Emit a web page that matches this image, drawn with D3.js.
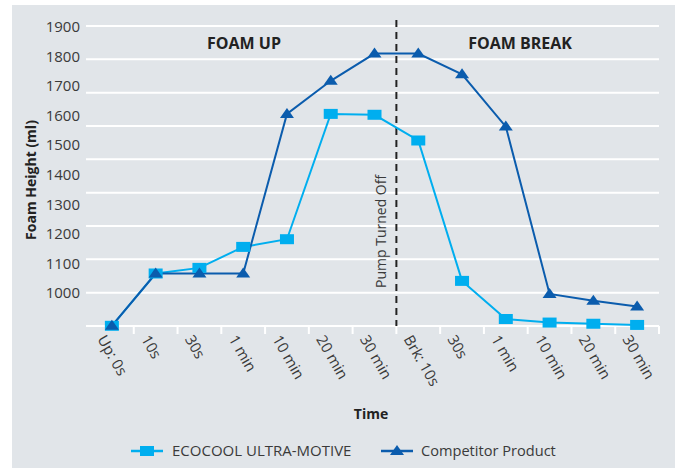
<!DOCTYPE html>
<html><head><meta charset="utf-8">
<script src="https://cdn.jsdelivr.net/npm/d3@7"></script>
<style>
html,body{margin:0;padding:0;background:#fff;}
svg text{font-family:"Open Sans","Noto Sans",sans-serif;}
</style></head>
<body><svg id="c" width="677" height="468"></svg>
<script>
const categories = ["Up: 0s","10s","30s","1 min","10 min","20 min","30 min","Brk: 10s","30s","1 min","10 min","20 min","30 min"];
const ecocool = [889,1066,1085,1156,1182,1606,1603,1516,1041,912,900,896,892];
const competitor = [889,1066,1066,1066,1606,1718,1810,1810,1740,1563,997,974,954];
const yTickLabels = [1900,1800,1700,1600,1500,1400,1300,1200,1100,1000];
const gridCount = 10;
const seriesNames = ["ECOCOOL ULTRA-MOTIVE","Competitor Product"];
const phaseLabels = ["FOAM UP","FOAM BREAK"];

const svg = d3.select("#c");
const C1 = "#00aeef", C2 = "#0b5cad";
svg.append("rect").attr("x",12).attr("y",5).attr("width",663).attr("height",463).attr("fill","#e1e5e9");

const x = d3.scaleBand().domain(d3.range(categories.length)).range([90,659]).padding(0);
const y = d3.scaleLinear().domain([1000,1900]).range([293,27]);
const yGrid = d3.scaleLinear().domain([0,gridCount-1]).range([326,26]);

// gridlines
svg.append("g").selectAll("line").data(d3.range(gridCount)).join("line")
  .attr("x1",86).attr("x2",659).attr("y1",d=>yGrid(d)).attr("y2",d=>yGrid(d))
  .attr("stroke","#fff").attr("stroke-width",2);

// y tick labels
svg.append("g").selectAll("text").data(yTickLabels).join("text")
  .attr("x",80).attr("y",d=>y(d)).attr("dy","0.35em").attr("text-anchor","end")
  .attr("font-size",15).attr("fill","#3a3a3a").text(d=>d);

// x ticks at band right edges
svg.append("g").selectAll("line").data(d3.range(categories.length)).join("line")
  .attr("x1",d=>x(d)+x.bandwidth()).attr("x2",d=>x(d)+x.bandwidth())
  .attr("y1",326).attr("y2",334).attr("stroke","#fff").attr("stroke-width",2);

// x labels
svg.append("g").selectAll("text").data(categories).join("text")
  .attr("transform",(d,i)=>`translate(${x(i)+x.bandwidth()/2-15},339) rotate(60)`)
  .attr("font-size",15).attr("fill","#3a3a3a").text(d=>d);

// axis titles
svg.append("text").attr("transform","translate(36,180) rotate(-90)").attr("text-anchor","middle")
  .attr("font-size",14).attr("font-weight","bold").attr("fill","#222").text("Foam Height (ml)");
svg.append("text").attr("x",371).attr("y",419).attr("text-anchor","middle")
  .attr("font-size",14).attr("font-weight","bold").attr("fill","#222").text("Time");

// phase labels
svg.append("text").attr("x",244).attr("y",49).attr("text-anchor","middle")
  .attr("font-size",16).attr("font-weight","bold").attr("fill","#222").text(phaseLabels[0]);
svg.append("text").attr("x",520).attr("y",49).attr("text-anchor","middle")
  .attr("font-size",16).attr("font-weight","bold").attr("fill","#222").text(phaseLabels[1]);

// pump line
const px = x(6)+x.bandwidth();
svg.append("line").attr("x1",px).attr("x2",px).attr("y1",20).attr("y2",326)
  .attr("stroke","#222").attr("stroke-width",2).attr("stroke-dasharray","7,5");
svg.append("text").attr("transform",`translate(${px-10},288) rotate(-90)`)
  .attr("font-size",14).attr("fill","#3a3a3a").text("Pump Turned Off");

const cx = i => x(i)+x.bandwidth()/2;
const line = d3.line().x((d,i)=>cx(i)).y(d=>y(d));
svg.append("path").datum(ecocool).attr("d",line).attr("fill","none").attr("stroke",C1).attr("stroke-width",2);
svg.append("path").datum(competitor).attr("d",line).attr("fill","none").attr("stroke",C2).attr("stroke-width",2);

const tri = (cx0,cy0)=>`M${cx0-7},${cy0+4} L${cx0},${cy0-6} L${cx0+7},${cy0+4} Z`;
svg.append("g").selectAll("rect").data(ecocool).join("rect")
  .attr("x",(d,i)=>cx(i)-7).attr("y",d=>y(d)-5).attr("width",14).attr("height",10).attr("fill",C1);
svg.append("g").selectAll("path").data(competitor).join("path")
  .attr("d",(d,i)=>tri(cx(i),y(d))).attr("fill",C2);

// legend
const lg = svg.append("g");
lg.append("line").attr("x1",131).attr("x2",163).attr("y1",451).attr("y2",451).attr("stroke",C1).attr("stroke-width",2.5);
lg.append("rect").attr("x",140).attr("y",446).attr("width",14).attr("height",10).attr("fill",C1);
lg.append("text").attr("x",172).attr("y",451).attr("dy","0.35em").attr("font-size",15).attr("fill","#3a3a3a").text(seriesNames[0]);
lg.append("line").attr("x1",381).attr("x2",413).attr("y1",451).attr("y2",451).attr("stroke",C2).attr("stroke-width",2.5);
lg.append("path").attr("d",tri(397,451)).attr("fill",C2);
lg.append("text").attr("x",421).attr("y",451).attr("dy","0.35em").attr("font-size",14.6).attr("fill","#3a3a3a").text(seriesNames[1]);
</script></body></html>
